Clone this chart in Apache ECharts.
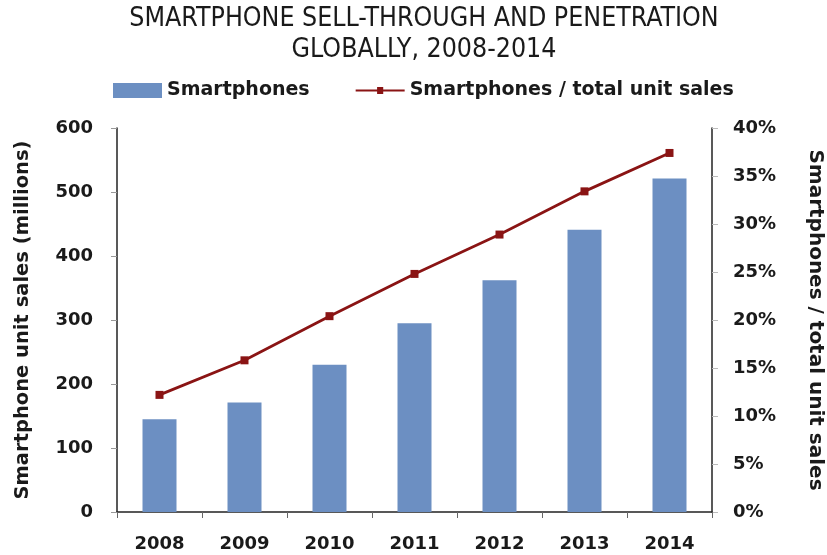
<!DOCTYPE html>
<html><head><meta charset="utf-8">
<script src="https://cdn.jsdelivr.net/npm/echarts@6/dist/echarts.min.js"></script>
<style>html,body{margin:0;padding:0;background:#fff}#c{width:827px;height:555px}</style>
</head><body><div id="c"></div>
<script>
const years = ['2008','2009','2010','2011','2012','2013','2014'];
const smartphones = [145, 171, 230, 295, 362, 441, 521];
const penetration = [12.2, 15.8, 20.4, 24.8, 28.9, 33.4, 37.4];
const leftTicks = [0, 600, 100];
const rightTicks = [0, 40, 5];

const font = 'DejaVu Sans';
const txt = '#1a1a1a';
const lineColor = '#8a1414';
const chart = echarts.init(document.getElementById('c'));
chart.setOption({
  animation: false,
  backgroundColor: '#fff',
  title: {
    text: 'SMARTPHONE SELL-THROUGH AND PENETRATION\nGLOBALLY, 2008-2014',
    left: 419, top: -1, textAlign: 'center',
    textStyle: {fontFamily: 'DejaVu Sans Condensed', fontSize: 26.5, fontWeight: 'normal', color: txt, lineHeight: 31}
  },
  legend: {
    top: 76, left: 108, itemGap: 46, itemWidth: 49, itemHeight: 15,
    textStyle: {fontFamily: font, fontSize: 19, fontWeight: 'bold', color: txt},
    data: [
      {name: 'Smartphones', icon: 'rect'},
      {name: 'Smartphones / total unit sales', icon: 'path://M0,6.5 L48,6.5 L48,8.5 L0,8.5 Z M21,4 L27,4 L27,11 L21,11 Z'}
    ]
  },
  grid: {left: 117, right: 115, top: 128, bottom: 43, containLabel: false, outerBoundsMode: 'none'},
  xAxis: {
    type: 'category', data: years,
    axisLine: {lineStyle: {color: '#222', width: 1.5}},
    axisTick: {show: true, alignWithLabel: false, length: 6, lineStyle: {color: '#666'}},
    axisLabel: {fontFamily: font, fontSize: 18, fontWeight: 'bold', color: txt, margin: 23}
  },
  yAxis: [{
    type: 'value', min: leftTicks[0], max: leftTicks[1], interval: leftTicks[2],
    name: 'Smartphone unit sales (millions)', nameLocation: 'middle', nameGap: 84, nameRotate: 90,
    nameTextStyle: {fontFamily: font, fontSize: 19.5, fontWeight: 'bold', color: txt},
    axisLine: {show: true, lineStyle: {color: '#222', width: 1.5}},
    axisTick: {show: true, length: 6, lineStyle: {color: '#999'}},
    splitLine: {show: false},
    axisLabel: {fontFamily: font, fontSize: 18, fontWeight: 'bold', color: txt, margin: 24}
  }, {
    type: 'value', min: rightTicks[0], max: rightTicks[1], interval: rightTicks[2], position: 'right',
    name: 'Smartphones / total unit sales', nameLocation: 'middle', nameGap: 93, nameRotate: -90,
    nameTextStyle: {fontFamily: font, fontSize: 20, fontWeight: 'bold', color: txt},
    axisLine: {show: true, lineStyle: {color: '#222', width: 1.5}},
    axisTick: {show: true, length: 6, lineStyle: {color: '#bbb'}},
    splitLine: {show: false},
    axisLabel: {fontFamily: font, fontSize: 18, fontWeight: 'bold', color: txt, margin: 21, formatter: '{value}%'}
  }],
  series: [{
    name: 'Smartphones', type: 'bar', data: smartphones, barWidth: '40%',
    itemStyle: {color: '#6c8fc2'}
  }, {
    name: 'Smartphones / total unit sales', type: 'line', yAxisIndex: 1, data: penetration,
    symbol: 'rect', symbolSize: 8, lineStyle: {color: lineColor, width: 2.8},
    itemStyle: {color: lineColor}
  }]
});
</script></body></html>
